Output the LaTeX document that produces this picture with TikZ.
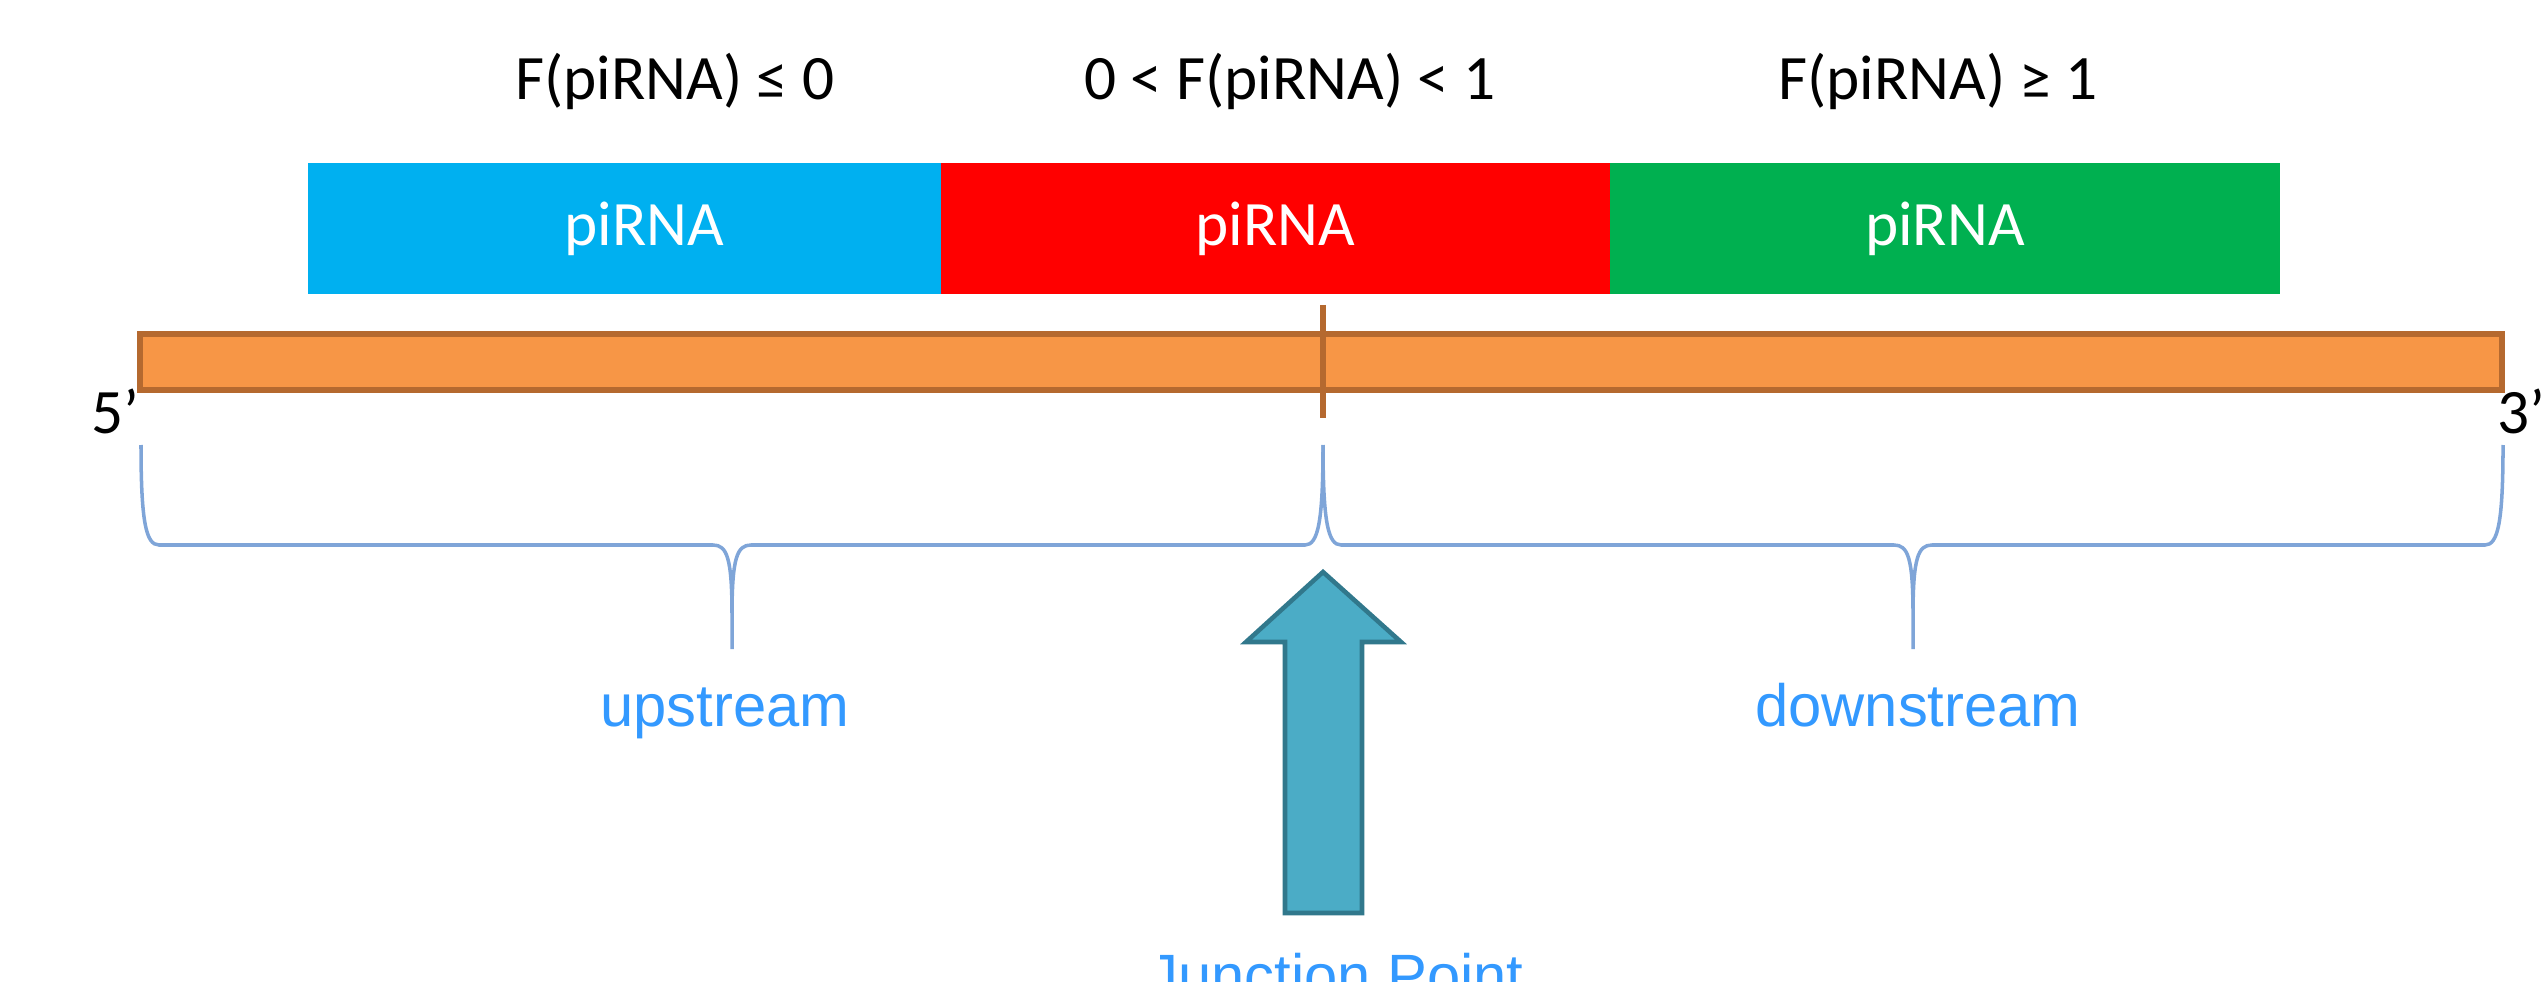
\documentclass[tikz,border=0pt]{standalone}
\usepackage{fontspec}
\setmainfont{Carlito}
\newfontfamily\arialfont{Liberation Sans}
\usetikzlibrary{positioning}

\definecolor{piblue}{HTML}{00B0F0}
\definecolor{pired}{HTML}{FF0000}
\definecolor{pigreen}{HTML}{00B050}
\definecolor{barfill}{HTML}{F79646}
\definecolor{barline}{HTML}{B5692F}
\definecolor{arrfill}{HTML}{4BACC6}
\definecolor{arrline}{HTML}{31788C}
\definecolor{bracecol}{HTML}{7FA5D8}
\definecolor{regcol}{HTML}{3399FF}

\begin{document}
\begin{tikzpicture}[
  pibox/.style={minimum height=1.31cm,inner sep=0pt,outer sep=0pt},
  pitext/.style={text=white,font=\fontsize{18}{22}\selectfont},
  toplab/.style={anchor=base,font=\fontsize{18}{22}\selectfont},
  endlab/.style={inner sep=0pt,font=\fontsize{18}{22}\selectfont},
  region/.style={anchor=base,text=regcol,font=\arialfont\fontsize{17}{20}\selectfont},
  brace/.style={draw=bracecol,line width=1pt},
  jarrow/.style={fill=arrfill,draw=arrline,line width=1.3pt,line join=miter}]
\useasboundingbox (0,0) rectangle (25.44,-9.82);
\clip (0,0) rectangle (25.44,-9.82);

% conditions
\node[toplab] (c1) at (6.75,-1.00) {F(piRNA) ≤ 0};
\node[toplab] (c2) at (12.90,-1.00) {0 < F(piRNA) < 1};
\node[toplab] (c3) at (19.38,-1.00) {F(piRNA) ≥ 1};

% piRNA pieces
\node[pibox,fill=piblue,minimum width=6.33cm,
  label={[pitext,xshift=0.2cm]center:piRNA}] (b1) at (6.245,-2.285) {};
\node[pibox,fill=pired,minimum width=6.69cm,right=0pt of b1,
  label={[pitext]center:piRNA}] (b2) {};
\node[pibox,fill=pigreen,minimum width=6.70cm,right=0pt of b2,
  label={[pitext]center:piRNA}] (b3) {};

% target strand
\coordinate (J) at (13.23,-3.62);
\draw[fill=barfill,draw=barline,line width=0.06cm] (1.40,-3.34) rectangle (25.02,-3.90);
\draw[barline,line width=0.06cm] ([yshift=0.57cm]J) -- ([yshift=-0.56cm]J);
\node[endlab,anchor=base east] (p5) at (1.40,-4.33) {5’};
\node[endlab,anchor=base west] (p3) at (24.97,-4.33) {3’};

% braces
\foreach \a/\m/\b in {1.41/7.32/13.23, 13.23/19.13/25.03}{
  \draw[brace] (\a,-4.45) .. controls (\a,-5.22) and ({\a+0.05},-5.45) .. ({\a+0.18},-5.45)
    -- ({\m-0.19},-5.45) .. controls ({\m-0.05},-5.45) and (\m,-5.58) .. (\m,-6.15) -- (\m,-6.49)
    -- (\m,-6.15) .. controls (\m,-5.58) and ({\m+0.05},-5.45) .. ({\m+0.19},-5.45)
    -- ({\b-0.18},-5.45) .. controls ({\b-0.05},-5.45) and (\b,-5.22) .. (\b,-4.45);
}
\node[region] (up) at (7.25,-7.26) {upstream};
\node[region] (down) at (19.18,-7.26) {downstream};

% junction arrow
\draw[jarrow] (13.23,-5.72) -- (14.01,-6.42) -- (13.62,-6.42) -- (13.62,-9.13)
  -- (12.85,-9.13) -- (12.85,-6.42) -- (12.46,-6.42) -- cycle;
\node[region] (jp) at (13.36,-9.96) {Junction Point};
\end{tikzpicture}
\end{document}
